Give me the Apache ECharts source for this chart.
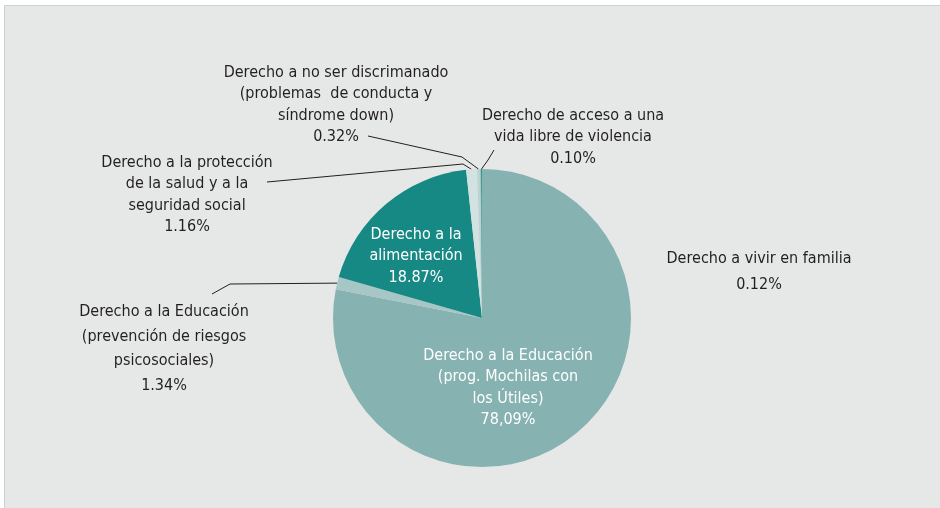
<!DOCTYPE html>
<html>
<head>
<meta charset="utf-8">
<script src="https://cdn.jsdelivr.net/npm/echarts@6/dist/echarts.min.js"></script>
<style>
html,body{margin:0;padding:0;background:#fff;}
#chart{width:940px;height:508px;}
</style>
</head>
<body>
<div id="chart"></div>
<script>
// ---- data ----
const categories = [
  'Derecho a la Educación\n(prog. Mochilas con\nlos Útiles)',
  'Derecho a la Educación\n(prevención de riesgos\npsicosociales)',
  'Derecho a la\nalimentación',
  'Derecho a la protección\nde la salud y a la\nseguridad social',
  'Derecho a no ser discrimanado\n(problemas  de conducta y\nsíndrome down)',
  'Derecho a vivir en familia',
  'Derecho de acceso a una\nvida libre de violencia'
];
const values = [78.09, 1.34, 18.87, 1.16, 0.32, 0.12, 0.10];
const pctLabels = ['78,09%', '1.34%', '18.87%', '1.16%', '0.32%', '0.12%', '0.10%'];

// ---- styles / layout ----
const colors = ['#86b2b1', '#a6c7c5', '#178985', '#d2e2e0', '#bcd3d1', '#9fc1bf', '#2a8f8b'];
const inside = [true, false, true, false, false, false, false];
const showLine = [false, true, false, true, true, false, true];
const labelPlacement = [
  {x: 508, y: 388},
  {x: 164, y: 349, elbow: [230, 284], end: [212, 294], lh: 24.5},
  {x: 416, y: 256},
  {x: 187, y: 195, elbow: [463, 164], end: [267, 182]},
  {x: 336, y: 105, elbow: [462, 157], end: [368, 136]},
  {x: 759, y: 272, lh: 26},
  {x: 573, y: 137, elbow: [488, 160], end: [494, 150]}
];
const FONT = "'DejaVu Sans Condensed', 'Liberation Sans Narrow', sans-serif";

const seriesData = categories.map((name, i) => ({
  name: name,
  value: values[i],
  itemStyle: {color: colors[i]},
  label: {
    position: inside[i] ? 'inside' : 'outside',
    color: inside[i] ? '#ffffff' : '#231f20',
    lineHeight: labelPlacement[i].lh || 21.5
  },
  labelLine: {show: showLine[i]}
}));

const chart = echarts.init(document.getElementById('chart'), null, {renderer: 'canvas'});
chart.setOption({
  backgroundColor: '#ffffff',
  animation: false,
  graphic: [{
    type: 'rect',
    z: -10,
    shape: {x: 4.5, y: 5.5, width: 940, height: 510},
    style: {fill: '#e6e8e7', stroke: '#cfd1d0', lineWidth: 1}
  }],
  series: [{
    type: 'pie',
    center: [482, 318],
    radius: [0, 149],
    startAngle: 90,
    clockwise: true,
    avoidLabelOverlap: false,
    minShowLabelAngle: 0,
    itemStyle: {borderWidth: 0},
    emphasis: {disabled: true},
    label: {
      show: true,
      fontFamily: FONT,
      fontSize: 16,
      lineHeight: 21.5,
      align: 'center',
      formatter: p => p.name + '\n' + pctLabels[p.dataIndex]
    },
    labelLine: {
      show: true,
      lineStyle: {color: '#231f20', width: 1}
    },
    labelLayout: function (params) {
      const i = params.dataIndex;
      const L = labelPlacement[i];
      const out = {x: L.x, y: L.y, align: 'center', verticalAlign: 'middle'};
      if (L.elbow && params.labelLinePoints) {
        out.labelLinePoints = [params.labelLinePoints[0], L.elbow, L.end];
      }
      return out;
    },
    data: seriesData
  }]
});
</script>
</body>
</html>
